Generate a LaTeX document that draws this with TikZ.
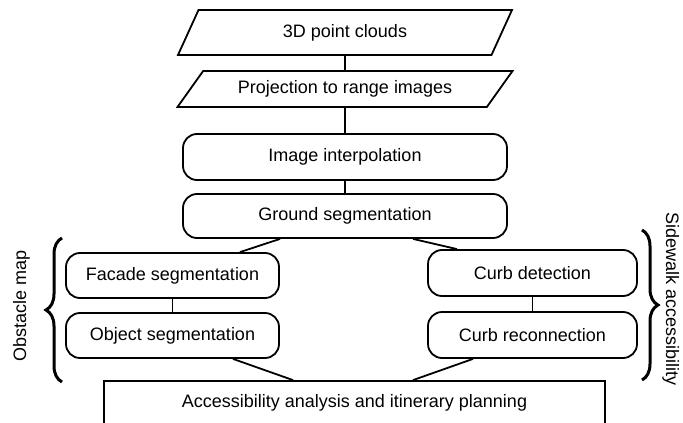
\documentclass[tikz,border=0pt]{standalone}
\usepackage{fontspec}
\setmainfont{Liberation Sans}
\usepackage{tikz}
\usetikzlibrary{decorations.pathreplacing, shapes.geometric, calc}

\begin{document}
\begin{tikzpicture}[x=1pt, y=-1pt, line width=1.8pt,
        every node/.style={font=\fontsize{18}{21}\selectfont},
        data/.style={draw, trapezium, trapezium stretches body, inner sep=0pt},
        process/.style={draw, rectangle, rounded corners=14pt, inner sep=0pt},
        output/.style={draw, rectangle, inner sep=0pt},
        brace/.style={decorate, decoration={brace, amplitude=16pt}, line width=3pt}]
                        \useasboundingbox (0, 0) rectangle (683, 423);
                        \clip (0, 0) rectangle (683, 423);

                        \node[data, minimum width=334pt, minimum height=45pt,
                            trapezium left angle=39.3, trapezium right angle=140.7]
                            (clouds) at (345, 32.5) {3D point clouds};
                        \node[data, minimum width=335pt, minimum height=36pt,
                            trapezium left angle=33.2, trapezium right angle=146.8]
                            (proj) at (345, 89) {Projection to range images};
                        \node[process, minimum width=324pt, minimum height=46pt] (interp) at (345, 157) {Image interpolation};
                        \node[process, minimum width=324pt, minimum height=44pt] (ground) at (345, 216) {Ground segmentation};

                        \node[process, minimum width=213pt, minimum height=45pt] (facade) at (172.5, 275.5) {Facade segmentation};
                        \node[process, minimum width=213pt, minimum height=45pt] (object) at (172.5, 335.5) {Object segmentation};
                        \node[process, minimum width=209pt, minimum height=46pt] (curbdet) at (532.5, 273) {Curb detection};
                        \node[process, minimum width=209pt, minimum height=46pt] (curbrec) at (532.5, 335) {Curb reconnection};

                        \node[output, minimum width=501pt, minimum height=44pt] (access) at (354.5, 403) {Accessibility analysis and itinerary planning};

                        \draw
                        (clouds.south) edge (proj.north)
                        (proj.south) edge (interp.north)
                        (interp.south) edge (ground.north)
                        ($(ground.south)+(-65, 0)$) edge ($(facade.north)+(67.5, 0)$)
                        ($(ground.south)+(68, 0)$) edge ($(curbdet.north)+(-75.5, 0)$)
                        (facade.south) edge (object.north)
                        (curbdet.south) edge (curbrec.north)
                        ($(object.south)+(60.5, 0)$) edge ($(access.north)+(-61.5, 0)$)
                        ($(curbrec.south)+(-59.5, 0)$) edge ($(access.north)+(58.5, 0)$);

                        \draw[brace] (62, 382) -- (62, 238);
                        \draw[brace] (642, 230) -- (642, 380);
                        \node[rotate=90, anchor=base] (obstacle) at (26, 306) {Obstacle map};
                        \node[rotate=-90, anchor=base] (sidewalk) at (666, 299) {Sidewalk accessibility};
                    \end{tikzpicture}
\end{document}
